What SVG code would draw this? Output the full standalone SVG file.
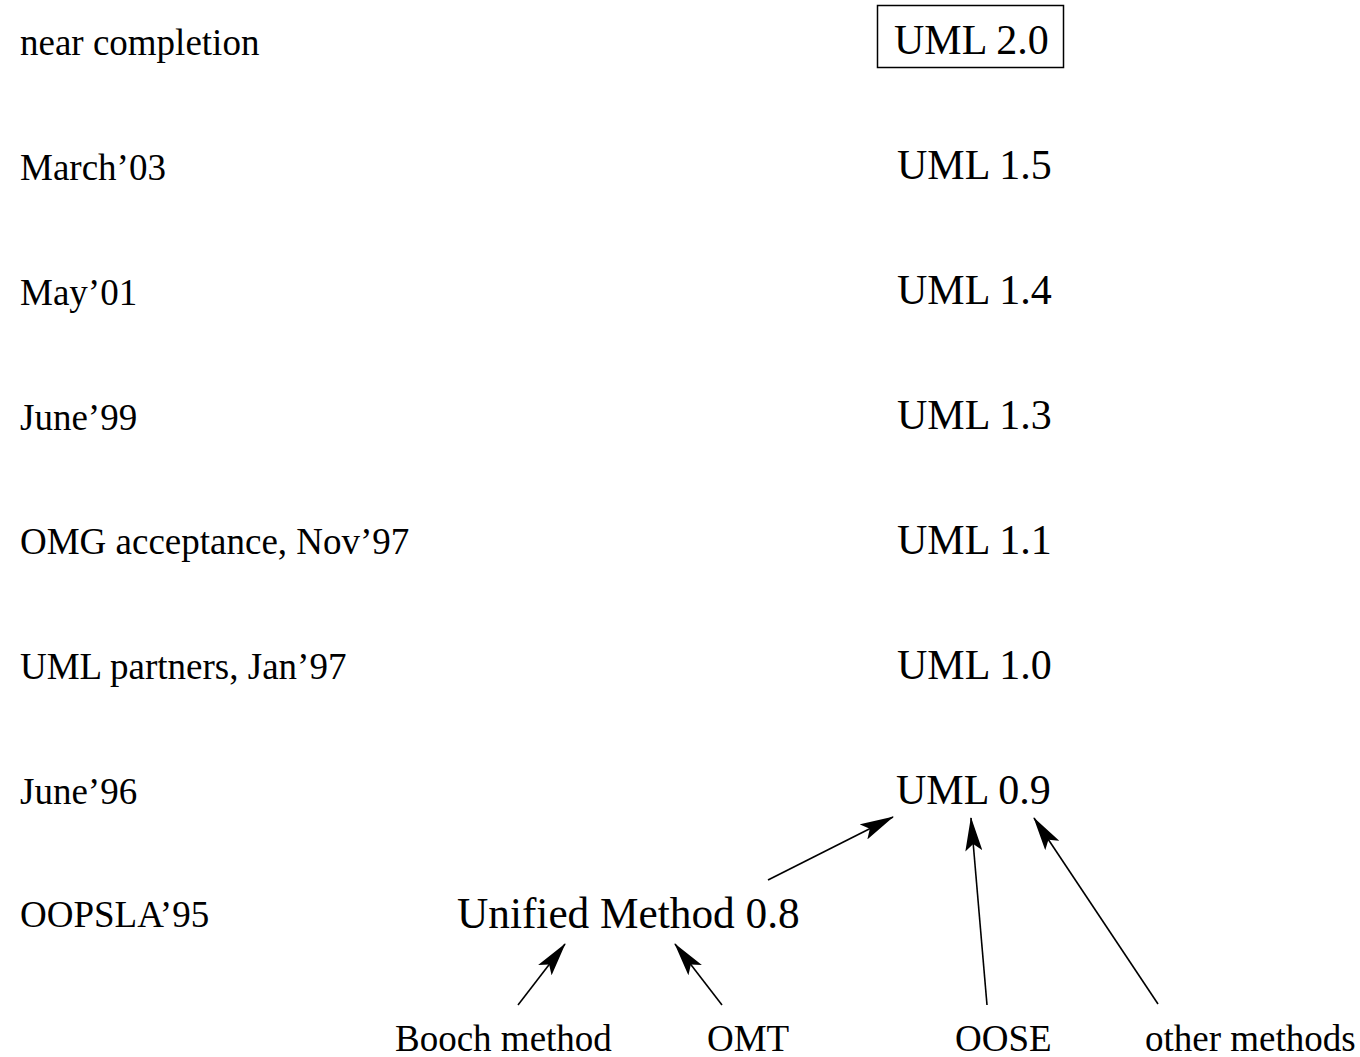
<svg xmlns="http://www.w3.org/2000/svg" width="1360" height="1057" viewBox="0 0 1360 1057">
  <style>
    text { font-family: "Liberation Serif", "Times New Roman", serif; fill: #000; }
    .date { font-size: 37px; }
    .ver { font-size: 42px; }
    .um { font-size: 43.3px; }
    .src { font-size: 37px; }
    .edge { stroke: #000; stroke-width: 1.6; fill: none; marker-end: url(#head); }
  </style>
  <defs>
    <!-- filled, notched arrowhead -->
    <marker id="head" viewBox="0 0 34 17" refX="33" refY="8.5" markerWidth="34" markerHeight="17" markerUnits="userSpaceOnUse" orient="auto">
      <path d="M0,0 L34,8.5 L0,17 L7,8.5 Z" fill="#000"/>
    </marker>
  </defs>
  <rect width="1360" height="1057" fill="#fff"/>

  <!-- timeline dates -->
  <g id="dates">
    <text class="date" x="20" y="55">near completion</text>
    <text class="date" x="20" y="180">March’03</text>
    <text class="date" x="20" y="305">May’01</text>
    <text class="date" x="20" y="430">June’99</text>
    <text class="date" x="20" y="554">OMG acceptance, Nov’97</text>
    <text class="date" x="20" y="679">UML partners, Jan’97</text>
    <text class="date" x="20" y="804">June’96</text>
    <text class="date" x="20" y="927">OOPSLA’95</text>
  </g>

  <!-- versions -->
  <g id="uml20">
    <rect x="877.5" y="5.5" width="186" height="62" fill="none" stroke="#000" stroke-width="1.5"/>
    <text class="ver" x="894" y="54">UML 2.0</text>
  </g>
  <g id="uml15"><text class="ver" x="897" y="179">UML 1.5</text></g>
  <g id="uml14"><text class="ver" x="897" y="304">UML 1.4</text></g>
  <g id="uml13"><text class="ver" x="897" y="429">UML 1.3</text></g>
  <g id="uml11"><text class="ver" x="897" y="554">UML 1.1</text></g>
  <g id="uml10"><text class="ver" x="897" y="679">UML 1.0</text></g>
  <g id="uml09"><text class="ver" x="896" y="804">UML 0.9</text></g>
  <g id="um08"><text class="um" x="457" y="928">Unified Method 0.8</text></g>

  <!-- source methods -->
  <g id="booch"><text class="src" x="395" y="1051">Booch method</text></g>
  <g id="omt"><text class="src" x="707" y="1051">OMT</text></g>
  <g id="oose"><text class="src" x="955" y="1051">OOSE</text></g>
  <g id="other"><text class="src" x="1145" y="1051">other methods</text></g>

  <!-- connectors -->
  <g id="connectors">
    <line class="edge" x1="768" y1="880" x2="893" y2="817"/>
    <line class="edge" x1="987" y1="1005" x2="971" y2="818"/>
    <line class="edge" x1="1158" y1="1004" x2="1034" y2="818"/>
    <line class="edge" x1="518" y1="1005" x2="565" y2="944"/>
    <line class="edge" x1="722" y1="1005" x2="675" y2="944"/>
  </g>
</svg>
